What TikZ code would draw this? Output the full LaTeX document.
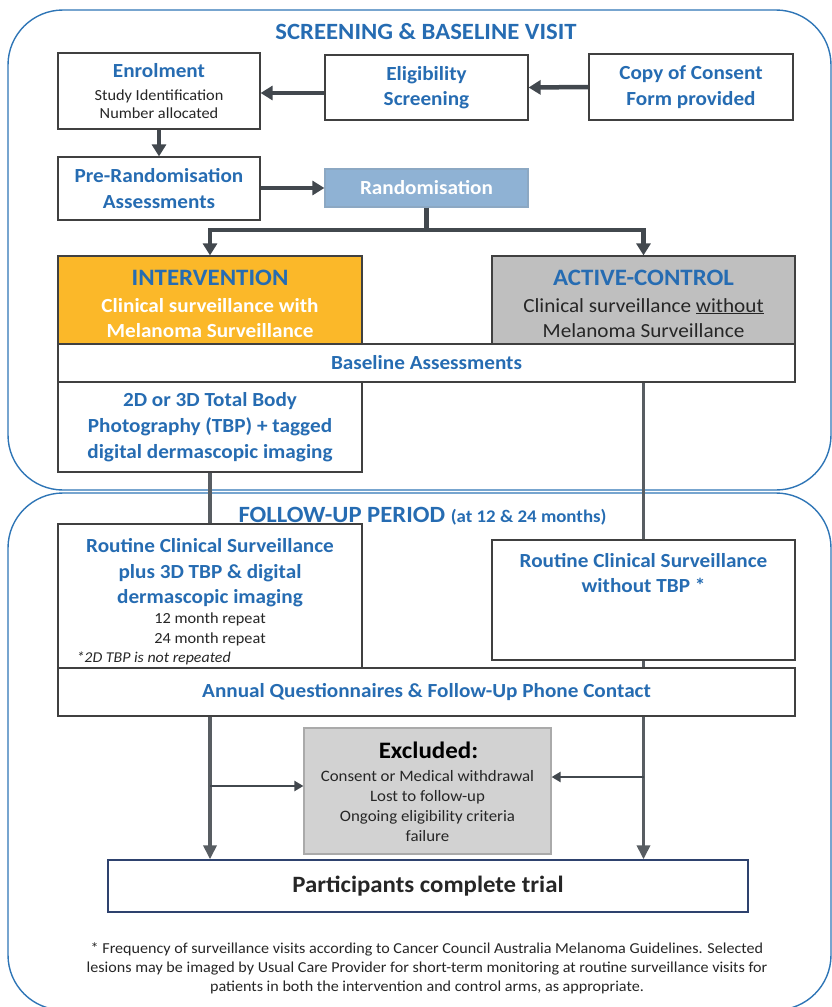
\documentclass[tikz,border=0pt]{standalone}
\usepackage{fontspec}
\setmainfont{Carlito}[FakeStretch=1.06]
\usetikzlibrary{arrows.meta}
\definecolor{tblue}{RGB}{38,108,178}
\definecolor{cblue}{RGB}{46,117,182}
\definecolor{boxc}{RGB}{64,64,64}
\definecolor{lc}{RGB}{66,72,78}
\definecolor{lc2}{RGB}{88,93,98}
\definecolor{orng}{RGB}{251,184,41}
\definecolor{gry}{RGB}{191,191,191}
\definecolor{lgry}{RGB}{210,210,210}
\definecolor{lgryb}{RGB}{170,170,170}
\definecolor{randc}{RGB}{143,178,212}
\definecolor{navy}{RGB}{46,66,110}
\definecolor{foot}{RGB}{38,38,38}
\begin{document}
\begin{tikzpicture}[x=1pt,y=-1pt,
  box/.style={draw=boxc,line width=1.2pt,fill=white,inner sep=0pt},
  btxt/.style={text=tblue,font=\bfseries\fontsize{20}{25.5}\selectfont,align=center},
  hd/.style={text=tblue,font=\bfseries\fontsize{23.3}{27}\selectfont,anchor=base},
  sm/.style={text=foot,font=\fontsize{15.4}{19}\selectfont,anchor=base},
  bl/.style={btxt,anchor=base},
  arrA/.style={draw=lc,line width=4.5pt,-{Triangle[length=12pt,width=14pt]}},
  lineA/.style={draw=lc,line width=4.5pt},
  arrB/.style={draw=lc2,line width=3.5pt,-{Triangle[length=14pt,width=13pt]}},
  lineB/.style={draw=lc2,line width=3.5pt},
  arrC/.style={draw=lc,line width=2.5pt,-{Triangle[length=9pt,width=10pt]}},
  cont/.style={draw=cblue,line width=1.4pt,rounded corners=55pt}]
\useasboundingbox (0,0) rectangle (831,1007);
% containers
\draw[cont] (8,10) rectangle (831,490);
\draw[cont] (8,493) rectangle (831,1010);
\node[hd,anchor=base] (t1) at (426,39) {SCREENING \& BASELINE VISIT};
% top row
\node[box,minimum width=202pt,minimum height=76pt] (enrol) at (159,91) {};
\node[bl] (enrolT) at (159,77) {Enrolment};
\node[sm] (enrolS1) at (159,100) {Study Identification};
\node[sm] (enrolS2) at (159,118) {Number allocated};
\node[box,btxt,minimum width=203pt,minimum height=65pt] (elig) at (426.5,87.5) {Eligibility\\Screening};
\node[box,btxt,minimum width=204pt,minimum height=66pt] (consent) at (691,87) {Copy of Consent\\Form provided};
\node[box,btxt,minimum width=202pt,minimum height=63pt] (prerand) at (159,188.5) {Pre-Randomisation\\Assessments};
\node[box,btxt,draw=randc!80!gray,fill=randc,text=white,minimum width=203pt,minimum height=38pt] (rand) at (426.5,188) {Randomisation};
% arms
\node[box,fill=orng,minimum width=304pt,minimum height=88pt] (interv) at (210,300) {};
\node[hd,font=\bfseries\fontsize{23.5}{27}\selectfont] (intT) at (210,285) {INTERVENTION};
\node[bl,text=white] (intS1) at (210,312) {Clinical surveillance with};
\node[bl,text=white] (intS2) at (210,337) {Melanoma Surveillance};
\node[box,fill=gry,minimum width=303pt,minimum height=88pt] (active) at (643.5,300) {};
\node[hd,font=\bfseries\fontsize{23.5}{27}\selectfont] (actT) at (643.5,285) {ACTIVE-CONTROL};
\node[anchor=base,text=foot,font=\fontsize{20}{25}\selectfont] (actS1) at (643.5,312) {Clinical surveillance \underline{without}};
\node[anchor=base,text=foot,font=\fontsize{20}{25}\selectfont] (actS2) at (643.5,337) {Melanoma Surveillance};
\node[box,btxt,minimum width=737pt,minimum height=38pt] (baseline) at (426.5,363) {Baseline Assessments};
\node[box,btxt,font=\bfseries\fontsize{20}{26}\selectfont,minimum width=304pt,minimum height=90pt] (tbp) at (210,427) {2D or 3D Total Body\\Photography (TBP) + tagged\\digital dermascopic imaging};
% follow-up
\node[hd] (fuT) at (422.5,522) {FOLLOW-UP PERIOD {\fontsize{17.8}{20}\selectfont (at 12 \& 24 months)}};
\node[box,minimum width=304pt,minimum height=144pt] (routL) at (210,596) {};
\node[bl] (rl1) at (210,552) {Routine Clinical Surveillance};
\node[bl] (rl2) at (210,578) {plus 3D TBP \& digital};
\node[bl] (rl3) at (210,603) {dermascopic imaging};
\node[sm] (rl4) at (210,623) {12 month repeat};
\node[sm] (rl5) at (210,643) {24 month repeat};
\node[sm,anchor=base west,font=\itshape\fontsize{15}{18}\selectfont] (rl6) at (73,662) {*2D TBP is not repeated};
\node[box,minimum width=303pt,minimum height=120pt] (routR) at (643.5,600) {};
\node[bl] (rr1) at (643.5,567) {Routine Clinical Surveillance};
\node[bl] (rr2) at (643.5,592) {without TBP *};
\node[box,btxt,minimum width=737pt,minimum height=48pt] (annual) at (426.5,692) {Annual Questionnaires \& Follow-Up Phone Contact};
% excluded
\node[box,draw=lgryb,fill=lgry,minimum width=247pt,minimum height=126pt] (excl) at (427.5,791) {};
\node[anchor=base,text=black,font=\bfseries\fontsize{23.6}{27}\selectfont] (exT) at (428.5,758) {Excluded:};
\node[sm,font=\fontsize{15.9}{20}\selectfont] (ex1) at (427.5,781) {Consent or Medical withdrawal};
\node[sm,font=\fontsize{15.9}{20}\selectfont] (ex2) at (427.5,801) {Lost to follow-up};
\node[sm,font=\fontsize{15.9}{20}\selectfont] (ex3) at (427.5,821) {Ongoing eligibility criteria};
\node[sm,font=\fontsize{15.9}{20}\selectfont] (ex4) at (427.5,841) {failure};
\node[box,draw=navy,line width=1.4pt,text=foot,font=\bfseries\fontsize{23.4}{27}\selectfont,minimum width=640pt,minimum height=52pt] (part) at (428,886) {Participants complete trial};
% footnote
\node[sm,font=\fontsize{15.2}{19}\selectfont] (f1) at (427,953) {* Frequency of surveillance visits according to Cancer Council Australia Melanoma Guidelines. Selected};
\node[sm,font=\fontsize{15.2}{19}\selectfont] (f2) at (427,972) {lesions may be imaged by Usual Care Provider for short-term monitoring at routine surveillance visits for};
\node[sm,font=\fontsize{15.2}{19}\selectfont] (f3) at (427,991) {patients in both the intervention and control arms, as appropriate.};
% connectors
\draw[arrA] (consent.west) -- (elig.east);
\draw[arrA] (elig.west |- 0,93) -- (enrol.east |- 0,93);
\draw[arrA] (enrol.south) -- (prerand.north);
\draw[arrA] (prerand.east |- rand.west) -- (rand.west);
\coordinate (split) at (426.5,230);
\draw[lineA] (rand.south) -- (split);
\draw[arrA] (split) -| (interv.north);
\draw[arrA] (split) -| (active.north);
\draw[lineB] (tbp.south) -- (routL.north);
\draw[lineB] (baseline.south -| active.south) -- (routR.north);
\draw[lineB] (routR.south) -- (annual.north -| routR.south);
\draw[arrB] (annual.south -| routL.south) -- (part.north -| routL.south);
\draw[arrB] (annual.south -| routR.south) -- (part.north -| routR.south);
\coordinate (exl) at (210,786);
\coordinate (exr) at (643.5,777);
\draw[arrC] (exl) -- (excl.west |- exl);
\draw[arrC] (exr) -- (excl.east |- exr);
\end{tikzpicture}
\end{document}
